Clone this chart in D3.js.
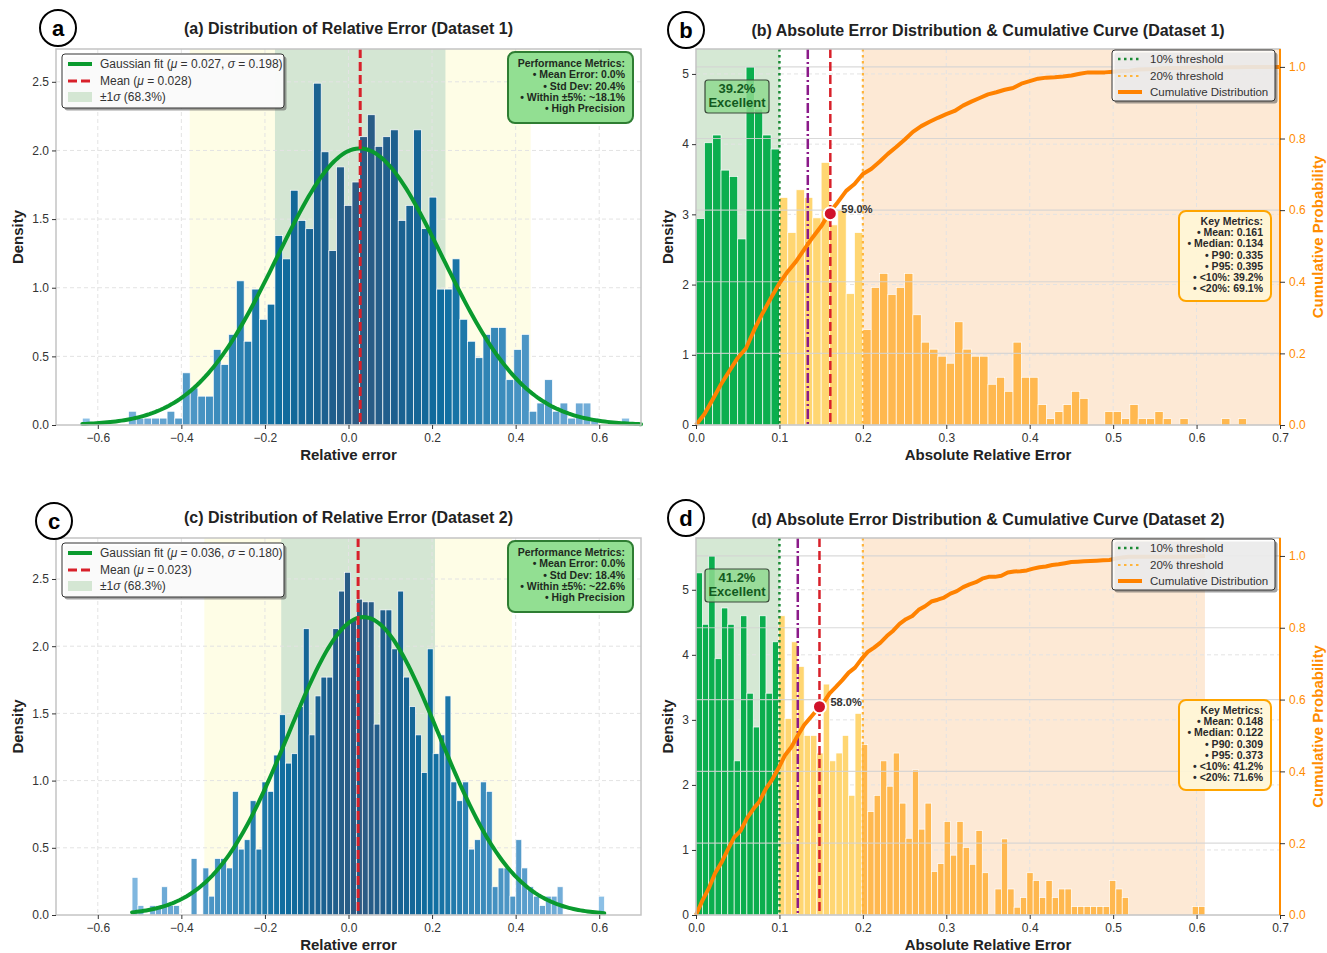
<!DOCTYPE html>
<html>
<head>
<meta charset="utf-8">
<script src="https://cdn.jsdelivr.net/npm/d3@7"></script>
<style>
  body { margin: 0; background: #fff; }
  text { font-family: "Liberation Sans", Arial, sans-serif; }
</style>
</head>
<body>
<div id="chart"></div>
<script>
// ---------- data ----------
// relative error histograms (density per bin), dataset 1 and 2
var relStart1 = -0.637, relWidth1 = 0.01844
var relDensity1 = [0.05, 0, 0, 0, 0, 0, 0.10, 0.05, 0.05, 0.05, 0.05, 0.10, 0.05, 0.38, 0.27, 0.21, 0.21, 0.55, 0.44, 0.66,
  1.05, 0.61, 0.99, 0.77, 0.88, 1.38, 1.21, 1.71, 1.49, 1.43, 2.49, 1.99, 1.27, 1.88, 1.60, 1.77, 2.10, 2.26, 2.03, 2.10,
  2.15, 1.49, 1.60, 2.15, 1.43, 1.66, 0.99, 0.99, 1.21, 0.77, 0.61, 0.49, 0.66, 0.71, 0.71, 0.33, 0.55, 0.66, 0.10, 0.16,
  0.33, 0.10, 0.16, 0.05, 0.16, 0.16, 0.05, 0, 0, 0, 0.05]
var relStart2 = -0.518, relWidth2 = 0.01413
var relDensity2 = [0.28, 0.07, 0, 0.07, 0.07, 0.21, 0.07, 0.07, 0, 0,
  0.42, 0, 0.35, 0.14, 0.42, 0.42, 0.35, 0.92, 0.49, 0.56,
  0.85, 0.49, 0.99, 0.92, 1.19, 1.49, 1.13, 1.20, 1.55, 2.13,
  1.34, 1.63, 1.77, 1.77, 2.13, 2.41, 2.55, 2.19, 2.35, 2.33,
  2.33, 1.42, 2.27, 2.27, 1.98, 2.41, 1.77, 1.55, 1.34, 1.06,
  1.98, 1.20, 1.34, 1.63, 0.99, 0.85, 0.99, 0.49, 0.56, 0.99,
  0.92, 0.21, 0.35, 0.35, 0.14, 0.56, 0.35, 0.21, 0.14, 0.07,
  0.14, 0.14, 0.21, 0, 0, 0, 0, 0, 0, 0.14]

// absolute error histograms (bins start at 0)
var absWidth1 = 0.01
var absDensity1 = [2.94, 4.02, 4.13, 3.63, 3.54, 2.65, 5.10, 4.50, 4.13, 3.93,
  3.24, 2.74, 3.35, 3.24, 2.95, 3.74, 2.85, 3.06, 1.87, 2.74,
  1.36, 1.96, 2.16, 1.86, 1.96, 2.16, 1.57, 1.18, 1.08, 0.98, 0.88, 1.47, 1.08, 0.98, 0.98,
  0.58, 0.68, 0.48, 1.18, 0.68, 0.68,
  0.29, 0.09, 0.19, 0.29, 0.48, 0.38, 0, 0, 0.19, 0.19, 0.09, 0.29, 0.09, 0.09, 0.19, 0.09, 0, 0.09, 0, 0, 0, 0, 0.09, 0, 0.09]
var absWidth2 = 0.007625
var absDensity2 = [5.26, 4.47, 5.52, 3.94, 4.72, 4.47, 2.37, 4.60, 3.41, 2.89, 4.60, 3.41, 4.20,
  4.60, 3.02, 4.20, 3.82, 2.76, 2.76, 2.49, 3.55, 2.37, 2.49, 2.76, 1.84, 3.10,
  2.62, 1.59, 1.84, 2.37, 1.98, 2.49, 1.72, 1.18, 2.23, 1.32,
  1.72, 0.67, 0.79, 1.44, 0.92, 1.44, 1.04, 0.78, 1.30, 0.65,
  0, 0.40, 1.17, 0.40, 0.12, 0.27, 0.65, 0.53, 0.27, 0.53,
  0.27, 0.40, 0.40, 0.13, 0.13, 0.13, 0.13, 0.13, 0.13, 0.53, 0.40, 0.27,
  0, 0, 0, 0, 0, 0, 0, 0, 0, 0, 0.13, 0.13]

// fit / summary values
var fitMu = [0.027, 0.036]
var fitSigma = [0.198, 0.180]
var fitRange = [[-0.637, 0.70], [-0.518, 0.612]]
var sampleMean = [0.028, 0.023]
var sampleStd = [0.204, 0.184]
var absMean = [0.161, 0.148]
var absMedian = [0.134, 0.122]
var cdfAtMean = [0.590, 0.580]
var absMax = [0.70, 0.61]
var excellentPct = ["39.2%", "41.2%"]

var perfLines = [
  ["Performance Metrics:", "• Mean Error: 0.0%", "• Std Dev: 20.4%", "• Within ±5%: ~18.1%", "• High Precision"],
  ["Performance Metrics:", "• Mean Error: 0.0%", "• Std Dev: 18.4%", "• Within ±5%: ~22.6%", "• High Precision"]]
var keyLines = [
  ["Key Metrics:", "• Mean: 0.161", "• Median: 0.134", "• P90: 0.335", "• P95: 0.395", "• <10%: 39.2%", "• <20%: 69.1%"],
  ["Key Metrics:", "• Mean: 0.148", "• Median: 0.122", "• P90: 0.309", "• P95: 0.373", "• <10%: 41.2%", "• <20%: 71.6%"]]

var relTitles = ["(a) Distribution of Relative Error (Dataset 1)", "(c) Distribution of Relative Error (Dataset 2)"]
var absTitles = ["(b) Absolute Error Distribution & Cumulative Curve (Dataset 1)", "(d) Absolute Error Distribution & Cumulative Curve (Dataset 2)"]

var relXTicks = [-0.6, -0.4, -0.2, 0, 0.2, 0.4, 0.6]
var relYTicks = [0, 0.5, 1.0, 1.5, 2.0, 2.5]
var absXTicks = [0, 0.1, 0.2, 0.3, 0.4, 0.5, 0.6, 0.7]
var absYTicks = [0, 1, 2, 3, 4, 5]
var cdfTicks = [0, 0.2, 0.4, 0.6, 0.8, 1.0]

// ---------- drawing ----------
var svg = d3.select("#chart").append("svg")
  .attr("width", 1327)
  .attr("height", 953)

var gridColor = "#e3e3e3"
var spineColor = "#c4c4c4"

function panelLetter(cx, cy, letter) {
  svg.append("circle").attr("cx", cx).attr("cy", cy).attr("r", 18)
    .attr("fill", "white").attr("stroke", "black").attr("stroke-width", 2)
  svg.append("text").attr("x", cx).attr("y", cy + 7.5)
    .attr("text-anchor", "middle").style("font-size", "22px").style("font-weight", "bold")
    .text(letter)
}

function styleAxis(sel) {
  sel.select(".domain").remove()
  sel.selectAll(".tick line").attr("stroke", "#333").attr("stroke-width", 1)
  sel.selectAll(".tick text").attr("fill", "#333")
    .style("font-size", "12px").style("font-family", "'Liberation Sans', Arial, sans-serif")
}

function drawGrid(g, x, y, xt, yt, left, right, top, bottom) {
  g.selectAll(null).data(xt).enter().append("line")
    .attr("x1", d => x(d)).attr("x2", d => x(d)).attr("y1", top).attr("y2", bottom)
    .attr("stroke", gridColor).attr("stroke-dasharray", "4,3")
  g.selectAll(null).data(yt).enter().append("line")
    .attr("x1", left).attr("x2", right).attr("y1", d => y(d)).attr("y2", d => y(d))
    .attr("stroke", gridColor).attr("stroke-dasharray", "4,3")
}

function boxShadowed(g, x, y, w, h, op) {
  g.append("rect").attr("x", x + 2.5).attr("y", y + 2.5).attr("width", w).attr("height", h)
    .attr("rx", 3).attr("fill", "#555").attr("opacity", 0.55)
  g.append("rect").attr("x", x).attr("y", y).attr("width", w).attr("height", h)
    .attr("rx", 3).attr("fill", "white").attr("fill-opacity", op).attr("stroke", "#333").attr("stroke-width", 1)
}

var relColor = d3.scaleLinear()
  .domain([0, 0.12, 0.3, 0.55, 0.8, 1])
  .range(["#2f5a82", "#1d5f8e", "#0e6d9f", "#4290c0", "#6eaad6", "#8cc0e6"])

function drawRel(i, o) {
  var g = svg.append("g")
  var dens = i === 0 ? relDensity1 : relDensity2
  var start = i === 0 ? relStart1 : relStart2
  var bw = i === 0 ? relWidth1 : relWidth2
  var x = d3.scaleLinear().domain([-0.7, 0.7]).range([o.left, o.right])
  var y = d3.scaleLinear().domain([0, d3.max(dens) * 1.1]).range([o.bottom, o.top])
  var m = sampleMean[i], s = sampleStd[i]

  // sigma bands
  g.append("rect").attr("x", x(m - 2 * s)).attr("width", x(m + 2 * s) - x(m - 2 * s))
    .attr("y", o.top).attr("height", o.bottom - o.top).attr("fill", "#fefde6")
  g.append("rect").attr("x", x(m - s)).attr("width", x(m + s) - x(m - s))
    .attr("y", o.top).attr("height", o.bottom - o.top).attr("fill", "#d4e6d3")

  drawGrid(g, x, y, relXTicks, relYTicks.slice(1), o.left, o.right, o.top, o.bottom)

  var bins = dens.map((d, k) => ({ x0: start + k * bw, x1: start + (k + 1) * bw, v: d }))
  var maxDist = d3.max(bins, b => Math.abs((b.x0 + b.x1) / 2 - m))
  g.selectAll(null).data(bins.filter(b => b.v > 0)).enter().append("rect")
    .attr("x", d => x(d.x0))
    .attr("width", d => x(d.x1) - x(d.x0))
    .attr("y", d => y(d.v))
    .attr("height", d => y(0) - y(d.v))
    .attr("fill", d => relColor(Math.abs((d.x0 + d.x1) / 2 - m) / maxDist))
    .attr("stroke", "white").attr("stroke-width", 0.7)

  // gaussian fit curve from the fitted parameters
  var mu = fitMu[i], sg = fitSigma[i]
  var xs = d3.range(201).map(k => fitRange[i][0] + (fitRange[i][1] - fitRange[i][0]) * k / 200)
  var line = d3.line().x(d => x(d)).y(d => y(Math.exp(-0.5 * Math.pow((d - mu) / sg, 2)) / (sg * Math.sqrt(2 * Math.PI))))
  g.append("path").attr("d", line(xs)).attr("fill", "none")
    .attr("stroke", "#0a9a2e").attr("stroke-width", 4).attr("stroke-linecap", "round")

  // mean line
  g.append("line").attr("x1", x(m)).attr("x2", x(m)).attr("y1", o.top).attr("y2", o.bottom)
    .attr("stroke", "#d8202a").attr("stroke-width", 3).attr("stroke-dasharray", "9,4")

  // frame
  g.append("rect").attr("x", o.left).attr("y", o.top).attr("width", o.right - o.left).attr("height", o.bottom - o.top)
    .attr("fill", "none").attr("stroke", spineColor).attr("stroke-width", 1.5)

  // axes
  g.append("g").attr("transform", `translate(0,${o.bottom})`)
    .call(d3.axisBottom(x).tickValues(relXTicks).tickFormat(d3.format(".1f")).tickSize(4).tickPadding(4))
    .call(styleAxis)
  g.append("g").attr("transform", `translate(${o.left},0)`)
    .call(d3.axisLeft(y).tickValues(relYTicks).tickFormat(d3.format(".1f")).tickSize(4).tickPadding(3))
    .call(styleAxis)

  g.append("text").attr("x", (o.left + o.right) / 2).attr("y", o.bottom + 35)
    .attr("text-anchor", "middle").style("font-size", "15px").style("font-weight", "bold").attr("fill", "#222")
    .text("Relative error")
  g.append("text").attr("transform", `translate(${o.left - 33},${(o.top + o.bottom) / 2}) rotate(-90)`)
    .attr("text-anchor", "middle").style("font-size", "15px").style("font-weight", "bold").attr("fill", "#222")
    .text("Density")
  g.append("text").attr("x", (o.left + o.right) / 2).attr("y", o.top - 15)
    .attr("text-anchor", "middle").style("font-size", "16px").style("font-weight", "bold").attr("fill", "#222")
    .text(relTitles[i])

  // legend
  var lx = o.left + 6, ly = o.top + 5
  boxShadowed(g, lx, ly, 222, 54, 0.95)
  var rows = [ly + 10, ly + 27, ly + 43]
  g.append("line").attr("x1", lx + 6).attr("x2", lx + 30).attr("y1", rows[0]).attr("y2", rows[0])
    .attr("stroke", "#0a9a2e").attr("stroke-width", 4)
  g.append("line").attr("x1", lx + 6).attr("x2", lx + 30).attr("y1", rows[1]).attr("y2", rows[1])
    .attr("stroke", "#d8202a").attr("stroke-width", 3).attr("stroke-dasharray", "9,4")
  g.append("rect").attr("x", lx + 6).attr("y", rows[2] - 5).attr("width", 24).attr("height", 10)
    .attr("fill", "#d4e6d3")
  var t1 = g.append("text").attr("x", lx + 38).attr("y", rows[0] + 4).style("font-size", "12px").attr("fill", "#333")
  t1.append("tspan").text("Gaussian fit (")
  t1.append("tspan").style("font-style", "italic").text("μ")
  t1.append("tspan").text(` = ${fitMu[i].toFixed(3)}, `)
  t1.append("tspan").style("font-style", "italic").text("σ")
  t1.append("tspan").text(` = ${fitSigma[i].toFixed(3)})`)
  var t2 = g.append("text").attr("x", lx + 38).attr("y", rows[1] + 4).style("font-size", "12px").attr("fill", "#333")
  t2.append("tspan").text("Mean (")
  t2.append("tspan").style("font-style", "italic").text("μ")
  t2.append("tspan").text(` = ${sampleMean[i].toFixed(3)})`)
  var t3 = g.append("text").attr("x", lx + 38).attr("y", rows[2] + 4).style("font-size", "12px").attr("fill", "#333")
  t3.append("tspan").text("±1")
  t3.append("tspan").style("font-style", "italic").text("σ")
  t3.append("tspan").text(" (68.3%)")

  // performance box
  var bx = o.right - 133, by = o.top + 3
  g.append("rect").attr("x", bx).attr("y", by).attr("width", 125).attr("height", 71).attr("rx", 7)
    .attr("fill", "#92df92").attr("stroke", "#2e7d32").attr("stroke-width", 2)
  g.selectAll(null).data(perfLines[i]).enter().append("text")
    .attr("x", bx + 117).attr("y", (d, k) => by + 15 + k * 11.3)
    .attr("text-anchor", "end").style("font-size", "10.5px").style("font-weight", "bold").attr("fill", "#1e2a1e")
    .text(d => d)

  panelLetter(o.letterX, o.letterY, o.letter)
}

var greenBar = "#0bae4e", yellowBar = "#ffd672", orangeBar = "#ffb84f"

function drawAbs(i, o) {
  var g = svg.append("g")
  var dens = i === 0 ? absDensity1 : absDensity2
  var bw = i === 0 ? absWidth1 : absWidth2
  var x = d3.scaleLinear().domain([0, 0.7]).range([o.left, o.right])
  var y = d3.scaleLinear().domain([0, d3.max(dens) * 1.05]).range([o.bottom, o.top])
  var y2 = d3.scaleLinear().domain([0, 1.05]).range([o.bottom, o.top])

  // zones
  g.append("rect").attr("x", x(0)).attr("width", x(0.1) - x(0)).attr("y", o.top).attr("height", o.bottom - o.top)
    .attr("fill", "#d5e8d4")
  g.append("rect").attr("x", x(0.2)).attr("width", x(absMax[i]) - x(0.2)).attr("y", o.top).attr("height", o.bottom - o.top)
    .attr("fill", "#fde9d5")

  drawGrid(g, x, y, absXTicks.slice(1, -1), absYTicks.slice(1), o.left, o.right, o.top, o.bottom)

  var bins = dens.map((d, k) => ({ x0: k * bw, x1: (k + 1) * bw, v: d }))
  g.selectAll(null).data(bins.filter(b => b.v > 0)).enter().append("rect")
    .attr("x", d => x(d.x0))
    .attr("width", d => x(d.x1) - x(d.x0))
    .attr("y", d => y(d.v))
    .attr("height", d => y(0) - y(d.v))
    .attr("fill", d => {
      var c = (d.x0 + d.x1) / 2
      return c < 0.1 ? greenBar : (c < 0.2 ? yellowBar : orangeBar)
    })
    .attr("stroke", "white").attr("stroke-width", 0.7)

  // right-axis grid above bars
  g.selectAll(null).data(cdfTicks.slice(1)).enter().append("line")
    .attr("x1", o.left).attr("x2", o.right).attr("y1", d => y2(d)).attr("y2", d => y2(d))
    .attr("stroke", "#d2d2d2").attr("stroke-opacity", 0.85).attr("stroke-width", 1.2)

  // reference lines
  g.append("line").attr("x1", x(0.1)).attr("x2", x(0.1)).attr("y1", o.top).attr("y2", o.bottom)
    .attr("stroke", "#1a8a35").attr("stroke-width", 2.5).attr("stroke-dasharray", "2.5,3.5")
  g.append("line").attr("x1", x(0.2)).attr("x2", x(0.2)).attr("y1", o.top).attr("y2", o.bottom)
    .attr("stroke", "#ffb43a").attr("stroke-width", 2.2).attr("stroke-dasharray", "2.5,3.5")
  g.append("line").attr("x1", x(absMedian[i])).attr("x2", x(absMedian[i])).attr("y1", o.top).attr("y2", o.bottom)
    .attr("stroke", "#8b1a89").attr("stroke-width", 2.5).attr("stroke-dasharray", "10,3,2,3")
  g.append("line").attr("x1", x(absMean[i])).attr("x2", x(absMean[i])).attr("y1", o.top).attr("y2", o.bottom)
    .attr("stroke", "#d8202a").attr("stroke-width", 2.5).attr("stroke-dasharray", "9,4")

  // cumulative curve from the histogram
  var total = d3.sum(dens)
  var run = 0
  var pts = [[0, 0]]
  bins.forEach(b => { run += b.v; pts.push([b.x1, run / total]) })
  if (absMax[i] > pts[pts.length - 1][0]) pts.push([absMax[i], 1])
  var cl = d3.line().x(d => x(d[0])).y(d => y2(d[1]))
  g.append("path").attr("d", cl(pts)).attr("fill", "none")
    .attr("stroke", "#ff8200").attr("stroke-width", 4).attr("stroke-linejoin", "round")

  // mean marker
  var mx = x(absMean[i]), my = y2(cdfAtMean[i])
  g.append("circle").attr("cx", mx).attr("cy", my).attr("r", 6.5)
    .attr("fill", "#d0122a").attr("stroke", "white").attr("stroke-width", 2)
  g.append("text").attr("x", mx + 11).attr("y", my - 1)
    .style("font-size", "11px").style("font-weight", "bold").attr("fill", "#333")
    .text((cdfAtMean[i] * 100).toFixed(1) + "%")

  // frame
  g.append("rect").attr("x", o.left).attr("y", o.top).attr("width", o.right - o.left).attr("height", o.bottom - o.top)
    .attr("fill", "none").attr("stroke", spineColor).attr("stroke-width", 1.5)
  g.append("line").attr("x1", o.right).attr("x2", o.right).attr("y1", o.top).attr("y2", o.bottom)
    .attr("stroke", "#ff8c00").attr("stroke-width", 2)

  // axes
  g.append("g").attr("transform", `translate(0,${o.bottom})`)
    .call(d3.axisBottom(x).tickValues(absXTicks).tickFormat(d3.format(".1f")).tickSize(4).tickPadding(4))
    .call(styleAxis)
  g.append("g").attr("transform", `translate(${o.left},0)`)
    .call(d3.axisLeft(y).tickValues(absYTicks).tickFormat(d3.format("d")).tickSize(4).tickPadding(3))
    .call(styleAxis)
  var ra = g.append("g").attr("transform", `translate(${o.right},0)`)
    .call(d3.axisRight(y2).tickValues(cdfTicks).tickFormat(d3.format(".1f")).tickSize(5).tickPadding(4))
    .call(styleAxis)
  ra.selectAll(".tick text").attr("fill", "#ff8c00")
  ra.selectAll(".tick line").attr("stroke", "#333")

  g.append("text").attr("x", (o.left + o.right) / 2).attr("y", o.bottom + 35)
    .attr("text-anchor", "middle").style("font-size", "15px").style("font-weight", "bold").attr("fill", "#222")
    .text("Absolute Relative Error")
  g.append("text").attr("transform", `translate(${o.left - 23},${(o.top + o.bottom) / 2}) rotate(-90)`)
    .attr("text-anchor", "middle").style("font-size", "15px").style("font-weight", "bold").attr("fill", "#222")
    .text("Density")
  g.append("text").attr("transform", `translate(${o.right + 43},${(o.top + o.bottom) / 2}) rotate(-90)`)
    .attr("text-anchor", "middle").style("font-size", "15px").style("font-weight", "bold").attr("fill", "#ff8c00")
    .text("Cumulative Probability")
  g.append("text").attr("x", (o.left + o.right) / 2).attr("y", o.top - 13)
    .attr("text-anchor", "middle").style("font-size", "16px").style("font-weight", "bold").attr("fill", "#222")
    .text(absTitles[i])

  // excellent badge
  var ex = o.left + 9, ey = o.top + 31
  g.append("rect").attr("x", ex).attr("y", ey).attr("width", 64).attr("height", 33).attr("rx", 3)
    .attr("fill", "#8fd98f").attr("fill-opacity", 0.85).attr("stroke", "#3a4a3a").attr("stroke-width", 1.2)
  g.append("text").attr("x", ex + 32).attr("y", ey + 13).attr("text-anchor", "middle")
    .style("font-size", "13px").style("font-weight", "bold").attr("fill", "#125a1e").text(excellentPct[i])
  g.append("text").attr("x", ex + 32).attr("y", ey + 27).attr("text-anchor", "middle")
    .style("font-size", "13px").style("font-weight", "bold").attr("fill", "#125a1e").text("Excellent")

  // legend
  var lx = o.right - 168, ly = o.top + 1
  boxShadowed(g, lx, ly, 163, 51, 0.8)
  var rows = [ly + 9, ly + 26, ly + 42]
  g.append("line").attr("x1", lx + 6).attr("x2", lx + 30).attr("y1", rows[0]).attr("y2", rows[0])
    .attr("stroke", "#1a8a35").attr("stroke-width", 2.5).attr("stroke-dasharray", "2.5,3.5")
  g.append("line").attr("x1", lx + 6).attr("x2", lx + 30).attr("y1", rows[1]).attr("y2", rows[1])
    .attr("stroke", "#ffb43a").attr("stroke-width", 2.2).attr("stroke-dasharray", "2.5,3.5")
  g.append("line").attr("x1", lx + 6).attr("x2", lx + 30).attr("y1", rows[2]).attr("y2", rows[2])
    .attr("stroke", "#ff8200").attr("stroke-width", 4)
  var labels = ["10% threshold", "20% threshold", "Cumulative Distribution"]
  g.selectAll(null).data(labels).enter().append("text")
    .attr("x", lx + 38).attr("y", (d, k) => rows[k] + 4)
    .style("font-size", "11.5px").attr("fill", "#333").text(d => d)

  // key metrics box
  var kx = o.right - 101, ky = o.top + 162
  g.append("rect").attr("x", kx).attr("y", ky).attr("width", 92).attr("height", 90).attr("rx", 7)
    .attr("fill", "#fff6d6").attr("fill-opacity", 0.9).attr("stroke", "#ffa500").attr("stroke-width", 2)
  g.selectAll(null).data(keyLines[i]).enter().append("text")
    .attr("x", kx + 84).attr("y", (d, k) => ky + 14 + k * 11.2)
    .attr("text-anchor", "end").style("font-size", "10.5px").style("font-weight", "bold").attr("fill", "#2a2a2a")
    .text(d => d)

  panelLetter(o.letterX, o.letterY, o.letter)
}

drawRel(0, { left: 56, right: 641, top: 49, bottom: 425, letter: "a", letterX: 58, letterY: 28 })
drawAbs(0, { left: 696, right: 1280, top: 49, bottom: 425, letter: "b", letterX: 686, letterY: 30 })
drawRel(1, { left: 56, right: 641, top: 538, bottom: 915, letter: "c", letterX: 54, letterY: 521 })
drawAbs(1, { left: 696, right: 1280, top: 538, bottom: 915, letter: "d", letterX: 686, letterY: 518 })
</script>
</body>
</html>
